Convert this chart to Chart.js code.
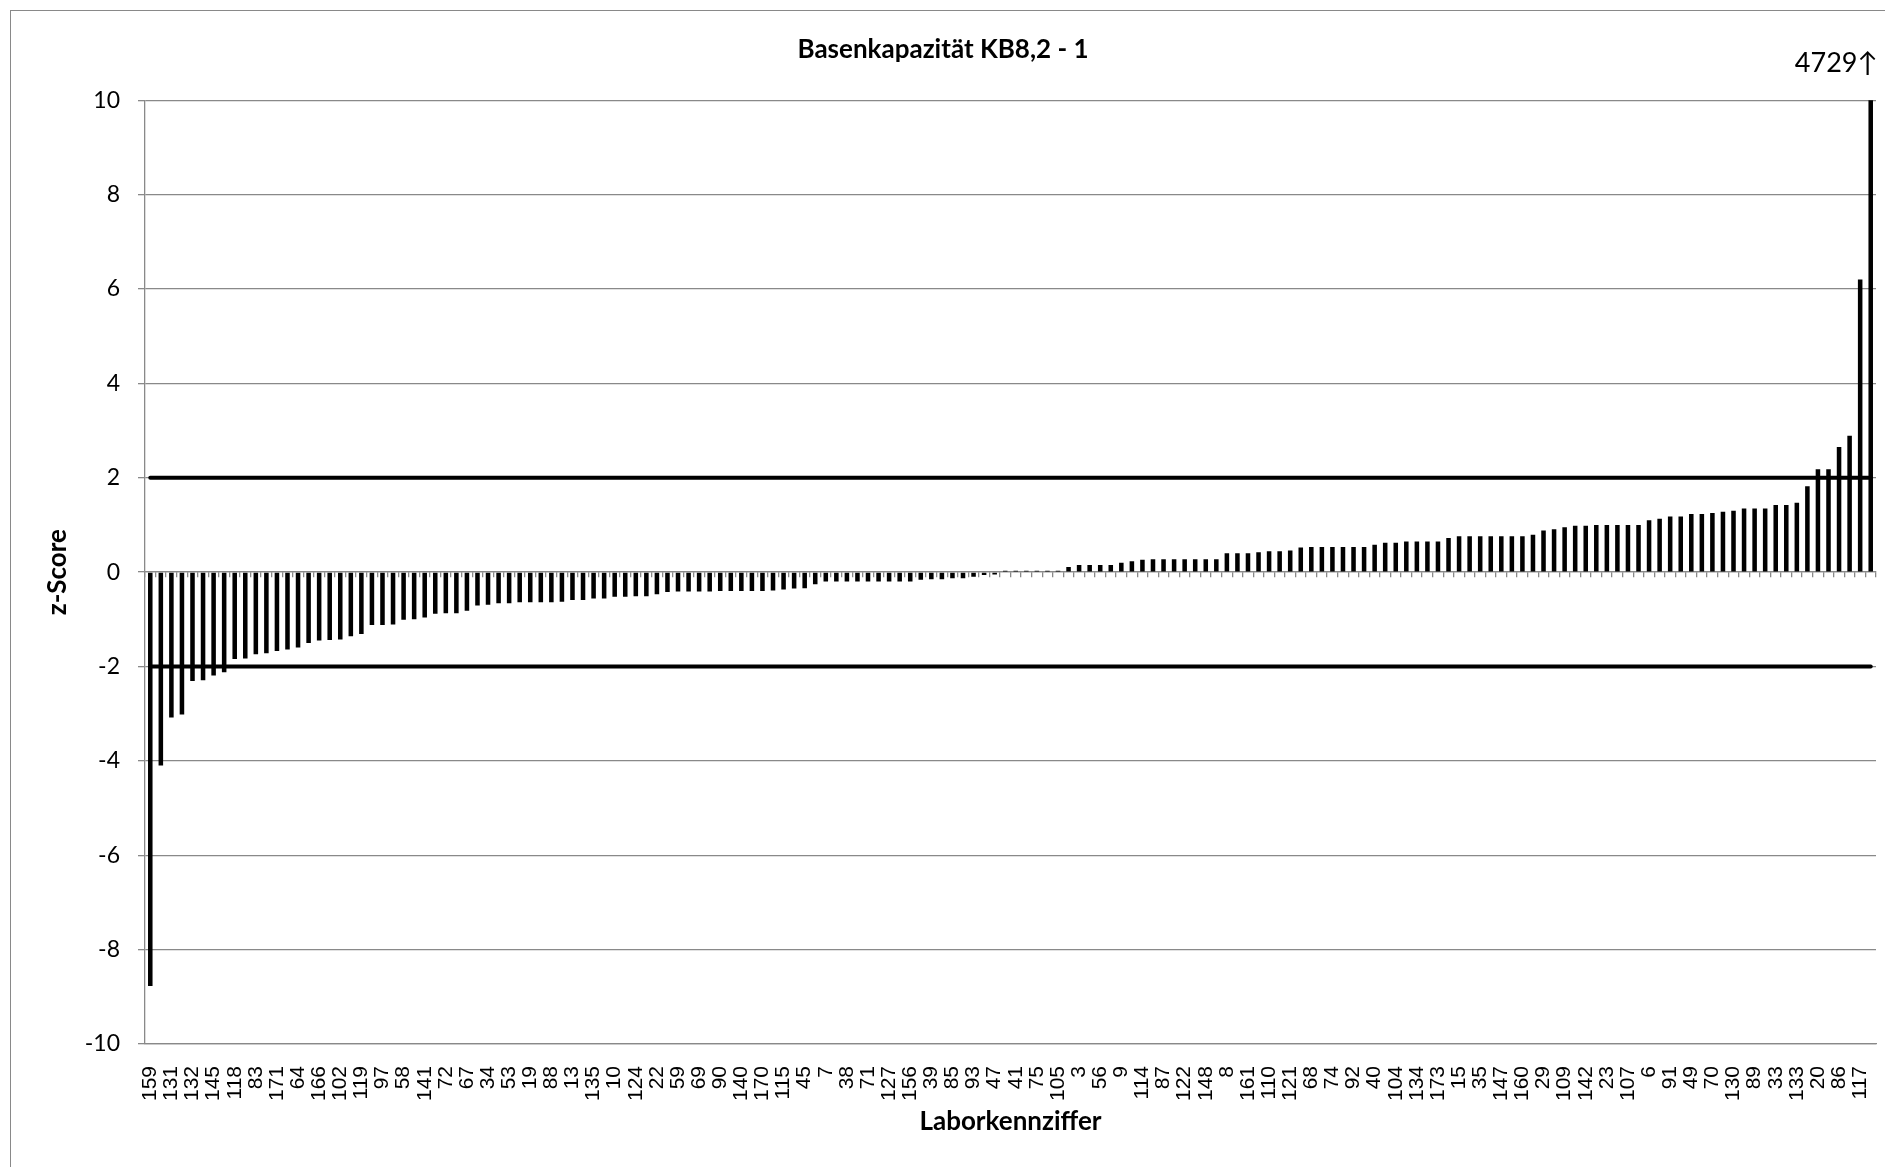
<!DOCTYPE html>
<html>
<head>
<meta charset="utf-8">
<title>Basenkapazität KB8,2 - 1</title>
<script src="https://cdn.jsdelivr.net/npm/chart.js@4.4.1/dist/chart.umd.min.js"></script>
<style>
    html, body { margin: 0; padding: 0; background: #fff; }
    canvas { display: block; }
</style>
</head>
<body>
<canvas id="chart" width="1885" height="1167"></canvas>
<script>
// Lab codes that are printed under the axis (every second bar carries a label)
const shownLabels = [
    '159', '131', '132', '145', '118', '83', '171', '64', '166', '102',
    '119', '97', '58', '141', '72', '67', '34', '53', '19', '88',
    '13', '135', '10', '124', '22', '59', '69', '90', '140', '170',
    '115', '45', '7', '38', '71', '127', '156', '39', '85', '93',
    '47', '41', '75', '105', '3', '56', '9', '114', '87', '122',
    '148', '8', '161', '110', '121', '68', '74', '92', '40', '104',
    '134', '173', '15', '35', '147', '160', '29', '109', '142', '23',
    '107', '6', '91', '49', '70', '130', '89', '33', '133', '20',
    '86', '117'
];

// z-scores, sorted ascending, one per lab
const zScores = [
    -8.77, -4.10, -3.08, -3.02, -2.31, -2.29, -2.19, -2.12, -1.84, -1.83,
    -1.74, -1.72, -1.67, -1.64, -1.60, -1.50, -1.45, -1.44, -1.43, -1.36,
    -1.31, -1.12, -1.12, -1.11, -1.01, -1.00, -0.96, -0.88, -0.87, -0.87,
    -0.82, -0.71, -0.69, -0.66, -0.66, -0.64, -0.64, -0.64, -0.64, -0.63,
    -0.59, -0.59, -0.56, -0.56, -0.52, -0.52, -0.51, -0.51, -0.47, -0.42,
    -0.41, -0.41, -0.41, -0.41, -0.40, -0.40, -0.40, -0.40, -0.40, -0.39,
    -0.37, -0.35, -0.34, -0.26, -0.20, -0.20, -0.20, -0.20, -0.20, -0.20,
    -0.20, -0.20, -0.20, -0.16, -0.15, -0.15, -0.13, -0.13, -0.10, -0.06,
    -0.05, 0.03, 0.03, 0.03, 0.03, 0.03, 0.03, 0.11, 0.15, 0.15,
    0.15, 0.15, 0.20, 0.23, 0.26, 0.27, 0.27, 0.27, 0.27, 0.27,
    0.27, 0.27, 0.40, 0.40, 0.40, 0.42, 0.44, 0.44, 0.46, 0.52,
    0.53, 0.53, 0.53, 0.53, 0.53, 0.53, 0.58, 0.62, 0.62, 0.65,
    0.65, 0.65, 0.65, 0.72, 0.76, 0.76, 0.76, 0.76, 0.76, 0.76,
    0.76, 0.79, 0.88, 0.91, 0.95, 0.98, 0.98, 1.00, 1.00, 1.00,
    1.00, 1.00, 1.10, 1.13, 1.18, 1.18, 1.23, 1.23, 1.25, 1.28,
    1.30, 1.35, 1.35, 1.35, 1.42, 1.42, 1.47, 1.82, 2.18, 2.18,
    2.65, 2.89, 6.20, 4729
];

// Acceptance limits |z| = 2
const limits = [2, -2];

const yMin = -10;
const yMax = 10;
const yStep = 2;

const gridGray = '#898989';

// Labels for the unlabelled bars are not printed in the chart
const categories = zScores.map((v, i) => (i % 2 === 0 ? shownLabels[i / 2] : ''));

// Frame + "value off scale" note for the last lab
const chartDecor = {
    id: 'chartDecor',
    beforeDraw(chart) {
        const ctx = chart.ctx;
        ctx.save();
        ctx.fillStyle = '#fff';
        ctx.fillRect(0, 0, chart.width, chart.height);
        ctx.strokeStyle = gridGray;
        ctx.lineWidth = 1;
        ctx.strokeRect(10.5, 10.5, chart.width + 20, chart.height + 20);
        ctx.restore();
    },
    afterDraw(chart) {
        const { ctx, chartArea, scales } = chart;
        const last = zScores.length - 1;
        if (zScores[last] <= scales.y.max) return;
        const x = scales.x.getPixelForValue(last);
        ctx.save();
        ctx.font = '27px Lato, "DejaVu Sans", sans-serif';
        ctx.fillStyle = '#000';
        ctx.textAlign = 'right';
        ctx.textBaseline = 'middle';
        ctx.fillText(zScores[last] + '\u2191', x + 7, chartArea.top - 37);
        ctx.restore();
    }
};

Chart.defaults.font.family = 'Lato, "Open Sans", sans-serif';
Chart.defaults.color = '#000';

const limitSets = limits.map(limit => ({
    type: 'line',
    data: categories.map(() => limit),
    borderColor: '#000',
    borderWidth: 4,
    borderCapStyle: 'round',
    pointRadius: 0,
    fill: false,
    order: 0,
    xAxisID: 'x'
}));

new Chart(document.getElementById('chart'), {
    type: 'bar',
    data: {
        labels: categories,
        datasets: [
            {
                type: 'bar',
                data: zScores,
                backgroundColor: '#000',
                borderWidth: 0,
                categoryPercentage: 1,
                barPercentage: 0.43,
                order: 1,
                xAxisID: 'x'
            },
            ...limitSets
        ]
    },
    options: {
        responsive: false,
        animation: false,
        devicePixelRatio: 1,
        layout: { padding: { top: 0, left: 10, right: 9, bottom: 10 } },
        plugins: {
            legend: { display: false },
            tooltip: { enabled: false },
            title: {
                display: true,
                text: 'Basenkapazität KB8,2 - 1',
                color: '#000',
                font: { size: 26, weight: 'bold' },
                padding: { top: 34, bottom: 35 }
            }
        },
        scales: {
            x: {
                position: 'bottom',
                offset: true,
                grid: { display: false },
                border: { display: true, color: gridGray, width: 1.3 },
                ticks: {
                    autoSkip: false,
                    minRotation: 90,
                    maxRotation: 90,
                    padding: 14,
                    color: '#000',
                    font: { family: '"Liberation Sans", Arial, sans-serif', size: 21 }
                },
                title: {
                    display: true,
                    text: 'Laborkennziffer',
                    color: '#000',
                    font: { size: 26, weight: 'bold' },
                    padding: { top: 0, bottom: 20 }
                },
                afterFit(scale) {
                    scale.height = 113;
                    scale.paddingLeft = 0;
                    scale.paddingRight = 0;
                }
            },
            // axis line with tick marks crossing at z = 0
            xZero: {
                type: 'category',
                position: { y: 0 },
                offset: true,
                ticks: { display: false },
                grid: { drawOnChartArea: false, offset: true, tickLength: 5, color: gridGray, lineWidth: 1.3 },
                border: { display: true, color: gridGray, width: 1.3 },
                afterFit(scale) {
                    scale.paddingLeft = 0;
                    scale.paddingRight = 0;
                }
            },
            y: {
                min: yMin,
                max: yMax,
                ticks: {
                    stepSize: yStep,
                    padding: 18,
                    color: '#000',
                    font: { size: 23 }
                },
                grid: { color: gridGray, lineWidth: 1.3, tickLength: 7 },
                border: { display: true, color: gridGray, width: 1.3 },
                title: {
                    display: true,
                    text: 'z-Score',
                    color: '#000',
                    font: { size: 26, weight: 'bold' },
                    padding: { top: 32, bottom: 0 }
                },
                afterFit(scale) { scale.width = 135; }
            }
        }
    },
    plugins: [chartDecor]
});
</script>
</body>
</html>
